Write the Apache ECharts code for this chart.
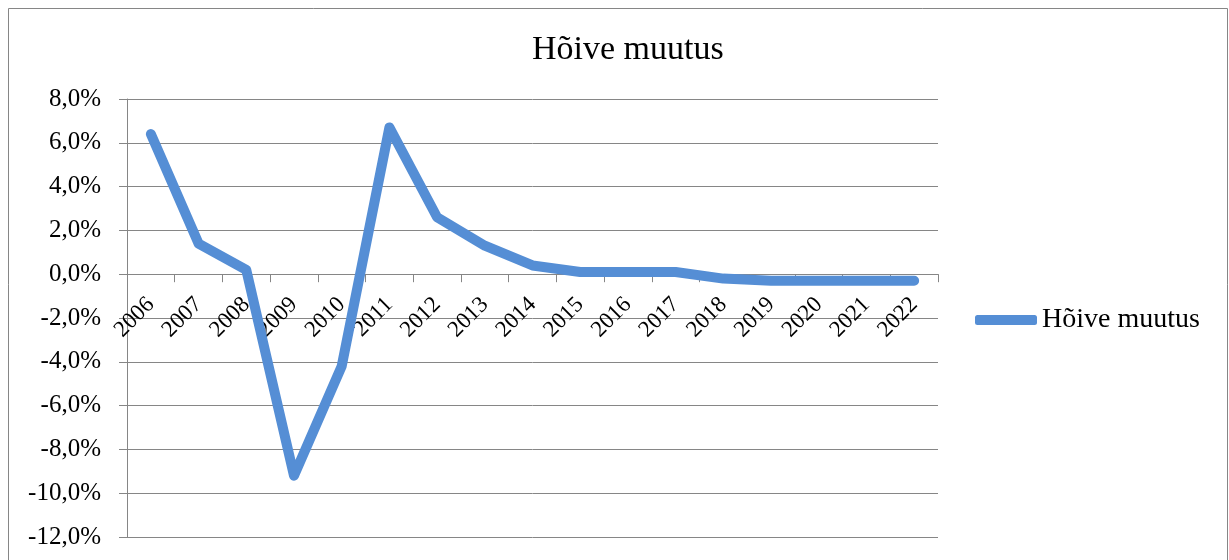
<!DOCTYPE html>
<html>
	<head>
		<meta charset="UTF-8">
		<title>Hõive muutus</title>
		<style>
			body { margin: 0; background: #fff; }
		</style>
	</head>
	<body>
		<div id="chart1" style="width: 1229px;height: 560px;"></div>
		<script src="https://cdn.jsdelivr.net/npm/echarts@6/dist/echarts.min.js"></script>
		<script type="text/javascript">
			// andmed
			var years = ['2006', '2007', '2008', '2009', '2010', '2011', '2012', '2013', '2014',
				'2015', '2016', '2017', '2018', '2019', '2020', '2021', '2022'];
			var hoiveMuutus = [6.4, 1.4, 0.2, -9.2, -4.2, 6.7, 2.6, 1.3, 0.4,
				0.1, 0.1, 0.1, -0.2, -0.3, -0.3, -0.3, -0.3];
			var yTicks = { min: -12, max: 8, step: 2 };

			var serif = '"Liberation Serif", "DejaVu Serif", serif';
			var gridTop = 99, gridBottom = 23, chartH = 560;
			var plotH = chartH - gridTop - gridBottom;
			// x-telg nulli kohale (nihe alt)
			var zeroOffset = plotH * (0 - yTicks.min) / (yTicks.max - yTicks.min);

			var my_echarts = echarts.init(document.getElementById('chart1'));
			var option = {
				backgroundColor: '#fff',
				animation: false,
				title: {
					text: 'Hõive muutus',
					left: 527,
					top: 28,
					textStyle: {
						fontFamily: serif,
						fontSize: 34,
						fontWeight: 'normal',
						color: '#000'
					}
				},
				graphic: [{
					type: 'rect',
					shape: { x: 8.5, y: 8.5, width: 1219, height: 560 },
					style: { fill: 'none', stroke: '#868686', lineWidth: 1 },
					silent: true
				}],
				legend: {
					data: ['Hõive muutus'],
					orient: 'vertical',
					left: 970,
					top: 301,
					icon: 'roundRect',
					itemWidth: 62,
					itemHeight: 10,
					itemGap: 8,
					textStyle: {
						fontFamily: serif,
						fontSize: 28,
						color: '#000'
					}
				},
				grid: {
					left: 127,
					right: 291,
					top: gridTop,
					bottom: gridBottom,
					outerBoundsMode: 'none',
					containLabel: false
				},
				xAxis: {
					type: 'category',
					data: years,
					boundaryGap: true,
					offset: -zeroOffset,
					axisLine: {
						onZero: false,
						lineStyle: { color: '#868686', width: 1 }
					},
					axisTick: {
						show: true,
						length: 8,
						lineStyle: { color: '#868686' }
					},
					axisLabel: {
						rotate: 45,
						interval: 0,
						margin: 27,
						fontFamily: serif,
						fontSize: 23,
						color: '#000'
					},
					splitLine: { show: false }
				},
				yAxis: {
					type: 'value',
					min: yTicks.min,
					max: yTicks.max,
					interval: yTicks.step,
					axisLine: {
						show: true,
						lineStyle: { color: '#868686', width: 1 }
					},
					axisTick: {
						show: true,
						length: 8,
						lineStyle: { color: '#868686' }
					},
					axisLabel: {
						margin: 26,
						fontFamily: serif,
						fontSize: 25,
						color: '#000',
						formatter: function(v) {
							return v.toFixed(1).replace('.', ',') + '%';
						}
					},
					splitLine: {
						lineStyle: { color: '#868686', width: 1 }
					}
				},
				series: [{
					name: 'Hõive muutus',
					type: 'line',
					data: hoiveMuutus,
					symbol: 'none',
					z: 3,
					itemStyle: { color: '#558ED5' },
					lineStyle: {
						color: '#558ED5',
						width: 10,
						cap: 'round',
						join: 'round'
					}
				}]
			};
			my_echarts.setOption(option);
		</script>
	</body>
</html>
